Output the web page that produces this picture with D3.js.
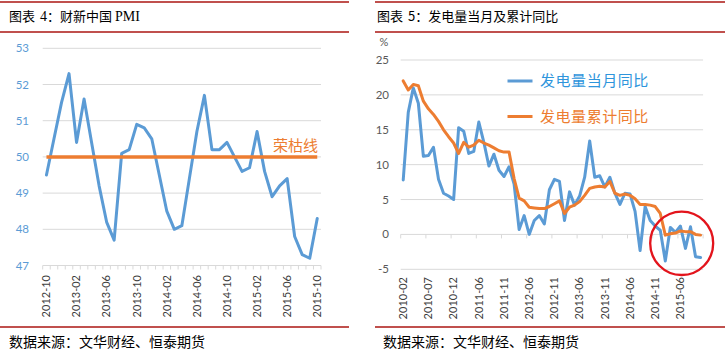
<!DOCTYPE html>
<html><head><meta charset="utf-8">
<script src="https://cdn.jsdelivr.net/npm/d3@7/dist/d3.min.js"></script>
<style>body{margin:0;background:#fff}svg{display:block}</style>
</head><body>
<svg id="c" width="725" height="358"></svg>
<script>
// ---------- Left chart data: Caixin China PMI ----------
const pmiMonths = ["2012-10","2012-11","2012-12","2013-01","2013-02","2013-03","2013-04","2013-05","2013-06","2013-07","2013-08","2013-09","2013-10","2013-11","2013-12","2014-01","2014-02","2014-03","2014-04","2014-05","2014-06","2014-07","2014-08","2014-09","2014-10","2014-11","2014-12","2015-01","2015-02","2015-03","2015-04","2015-05","2015-06","2015-07","2015-08","2015-09","2015-10"];
const pmiValues = [49.5,50.5,51.5,52.3,50.4,51.6,50.4,49.2,48.2,47.7,50.1,50.2,50.9,50.8,50.5,49.5,48.5,48.0,48.1,49.4,50.7,51.7,50.2,50.2,50.4,50.0,49.6,49.7,50.7,49.6,48.9,49.2,49.4,47.8,47.3,47.2,48.3];
const pmiTicks = [47,48,49,50,51,52,53];
const pmiLabelMonths = ["2012-10","2013-02","2013-06","2013-10","2014-02","2014-06","2014-10","2015-02","2015-06","2015-10"];
const boomBust = 50;

// ---------- Right chart data: power generation YoY ----------
const genMonths = ["2010-02","2010-03","2010-04","2010-05","2010-06","2010-07","2010-08","2010-09","2010-10","2010-11","2010-12",
"2011-02","2011-03","2011-04","2011-05","2011-06","2011-07","2011-08","2011-09","2011-10","2011-11","2011-12",
"2012-03","2012-04","2012-05","2012-06","2012-07","2012-08","2012-09","2012-10","2012-11","2012-12",
"2013-03","2013-04","2013-05","2013-06","2013-07","2013-08","2013-09","2013-10","2013-11","2013-12",
"2014-03","2014-04","2014-05","2014-06","2014-07","2014-08","2014-09","2014-10","2014-11","2014-12",
"2015-03","2015-04","2015-05","2015-06","2015-07","2015-08","2015-09","2015-10"];
const genMonthly = [7.8,17.5,21.0,18.8,11.2,11.3,12.5,7.9,5.9,5.5,5.0,
15.3,14.8,11.6,11.9,16.1,13.2,9.8,11.5,9.2,8.3,9.7,
7.2,0.7,2.7,0.0,2.0,2.7,1.5,6.4,7.9,7.6,
2.0,6.1,4.2,5.5,8.2,13.4,8.2,8.4,6.8,8.2,
5.9,4.3,5.9,5.8,3.3,-2.3,4.0,2.0,1.2,0.6,
-3.8,1.0,0.3,1.2,-2.0,1.1,-3.2,-3.3];
const genCumulative = [22.0,20.7,21.5,21.3,19.1,18.0,17.2,16.2,15.0,14.0,13.1,
11.6,13.2,12.5,12.8,13.5,13.1,12.8,12.4,12.0,11.8,11.8,
8.0,5.2,4.8,3.9,3.8,3.7,3.7,4.0,4.4,4.8,
3.0,3.9,4.2,4.7,5.6,6.6,6.8,6.9,6.8,7.6,
5.9,5.6,5.8,5.6,5.1,4.3,4.3,4.2,4.0,3.0,
-0.1,0.1,0.2,0.5,0.4,0.4,0.0,-0.1];
const genTicks = [-5,0,5,10,15,20,25];
const genLabelMonths = ["2010-02","2010-07","2010-12","2011-06","2011-11","2012-06","2012-11","2013-06","2013-11","2014-06","2014-11","2015-06"];
const legendNames = ["发电量当月同比","发电量累计同比"];

const BLUE = "#5B9BD5", ORANGE = "#ED7D31", GRID = "#D9D9D9", RED = "#C0504D";
const CJK = "'Noto Sans CJK SC', sans-serif";
const NUM = "Lato, 'Open Sans', sans-serif";

const svg = d3.select("#c");

// ---------- frames ----------
function frame(x0, x1) {
  [2, 32, 327].forEach(y => svg.append("line").attr("x1",x0).attr("x2",x1).attr("y1",y).attr("y2",y)
    .attr("stroke",RED).attr("stroke-width",2));
}
frame(0, 349);
frame(375, 725);

const t1 = svg.append("text").attr("y",21).attr("font-family",CJK).attr("font-size",13).attr("fill","#000");
t1.append("tspan").attr("x",9).text("图表");
t1.append("tspan").attr("x",40).attr("font-family","'Liberation Serif', serif").attr("font-size",14).text("4");
t1.append("tspan").text("：财新中国");
t1.append("tspan").attr("dx",3).attr("font-family","'Liberation Serif', serif").attr("font-size",14).text("PMI");

const t2 = svg.append("text").attr("y",21).attr("font-family",CJK).attr("font-size",13).attr("fill","#000");
t2.append("tspan").attr("x",377).text("图表");
t2.append("tspan").attr("x",408).text("5：发电量当月及累计同比");

svg.append("text").attr("x",9).attr("y",347).attr("font-family",CJK).attr("font-size",14).attr("fill","#000").text("数据来源：文华财经、恒泰期货");
svg.append("text").attr("x",383).attr("y",347).attr("font-family",CJK).attr("font-size",14).attr("fill","#000").text("数据来源：文华财经、恒泰期货");

// ---------- Left chart ----------
const xL = d3.scaleBand().domain(pmiMonths).range([42.7, 321]);
const yL = d3.scaleLinear().domain([47,53]).range([265.5, 48.3]);
const gL = svg.append("g");
gL.selectAll(".gl").data(pmiTicks).join("line")
  .attr("x1",42.7).attr("x2",321).attr("y1",d=>yL(d)).attr("y2",d=>yL(d))
  .attr("stroke",GRID).attr("stroke-width",1);
gL.selectAll(".yl").data(pmiTicks).join("text")
  .attr("x",29).attr("y",d=>yL(d)).attr("dy","0.35em").attr("text-anchor","end")
  .attr("font-family",NUM).attr("font-size",11.5).attr("fill",BLUE).text(d=>d);
const lBounds = pmiMonths.map(m=>xL(m)).concat([xL.range()[1]]);
gL.selectAll(".tk").data(lBounds).join("line")
  .attr("x1",d=>d).attr("x2",d=>d).attr("y1",yL(47)).attr("y2",yL(47)+4)
  .attr("stroke",GRID).attr("stroke-width",1);
gL.selectAll(".xl").data(pmiLabelMonths).join("text")
  .attr("transform",d=>`translate(${xL(d)+xL.bandwidth()/2},275) rotate(-90)`)
  .attr("dy","0.35em").attr("text-anchor","end")
  .attr("font-family",NUM).attr("font-size",11).attr("fill","#404040").text(d=>d);
const lineL = d3.line().x((d,i)=>xL(pmiMonths[i])+xL.bandwidth()/2).y(d=>yL(d));
gL.append("path").datum(pmiValues).attr("d",lineL).attr("fill","none")
  .attr("stroke",BLUE).attr("stroke-width",3).attr("stroke-linejoin","round").attr("stroke-linecap","round");
gL.append("path").datum(pmiValues.map(()=>boomBust)).attr("d",lineL).attr("fill","none")
  .attr("stroke",ORANGE).attr("stroke-width",3.5);
gL.append("text").attr("x",318).attr("y",yL(boomBust)-11).attr("dy","0.35em").attr("text-anchor","end")
  .attr("font-family",CJK).attr("font-size",15).attr("fill",ORANGE).text("荣枯线");

// ---------- Right chart ----------
const xR = d3.scaleBand().domain(genMonths).range([400.7, 703.1]);
const yR = d3.scaleLinear().domain([-5,25]).range([269.3, 60]);
const gR = svg.append("g");
gR.selectAll(".gl").data(genTicks).join("line")
  .attr("x1",400.7).attr("x2",703.1).attr("y1",d=>yR(d)).attr("y2",d=>yR(d))
  .attr("stroke",GRID).attr("stroke-width",1);
gR.selectAll(".yl").data(genTicks).join("text")
  .attr("x",389).attr("y",d=>yR(d)).attr("dy","0.35em").attr("text-anchor","end")
  .attr("font-family",NUM).attr("font-size",11.5).attr("fill","#595959").text(d=>d);
gR.append("text").attr("x",384).attr("y",46).attr("text-anchor","middle")
  .attr("font-family",NUM).attr("font-size",11).attr("fill","#595959").text("%");
const rBounds = genMonths.filter((m,i)=>i%5===0).map(m=>xR(m)).concat([xR.range()[1]]);
gR.selectAll(".tk").data(rBounds).join("line")
  .attr("x1",d=>d).attr("x2",d=>d).attr("y1",yR(0)).attr("y2",yR(0)+4)
  .attr("stroke",GRID).attr("stroke-width",1);
gR.selectAll(".xl").data(genLabelMonths).join("text")
  .attr("transform",d=>`translate(${xR(d)+xR.bandwidth()/2},277) rotate(-90)`)
  .attr("dy","0.35em").attr("text-anchor","end")
  .attr("font-family",NUM).attr("font-size",11).attr("fill","#404040").text(d=>d);
const lineR = d3.line().x((d,i)=>xR(genMonths[i])+xR.bandwidth()/2).y(d=>yR(d));
gR.append("path").datum(genMonthly).attr("d",lineR).attr("fill","none")
  .attr("stroke",BLUE).attr("stroke-width",3).attr("stroke-linejoin","round").attr("stroke-linecap","round");
gR.append("path").datum(genCumulative).attr("d",lineR).attr("fill","none")
  .attr("stroke",ORANGE).attr("stroke-width",3).attr("stroke-linejoin","round").attr("stroke-linecap","round");

// legend
const legCols = [BLUE, ORANGE], legText = ["#2E95DC", ORANGE];
legendNames.forEach((n,i)=>{
  const y = 81 + i*35.5;
  gR.append("line").attr("x1",507.5).attr("x2",532.5).attr("y1",y).attr("y2",y)
    .attr("stroke",legCols[i]).attr("stroke-width",3);
  gR.append("text").attr("x",540).attr("y",y).attr("dy","0.36em")
    .attr("font-family",CJK).attr("font-size",15).attr("letter-spacing",0.55)
    .attr("fill",legText[i]).text(n);
});

// red highlight circle
svg.append("ellipse").attr("cx",681.7).attr("cy",243.3).attr("rx",31.5).attr("ry",31.7)
  .attr("fill","none").attr("stroke","#E3141C").attr("stroke-width",2.3);
</script>
</body></html>
